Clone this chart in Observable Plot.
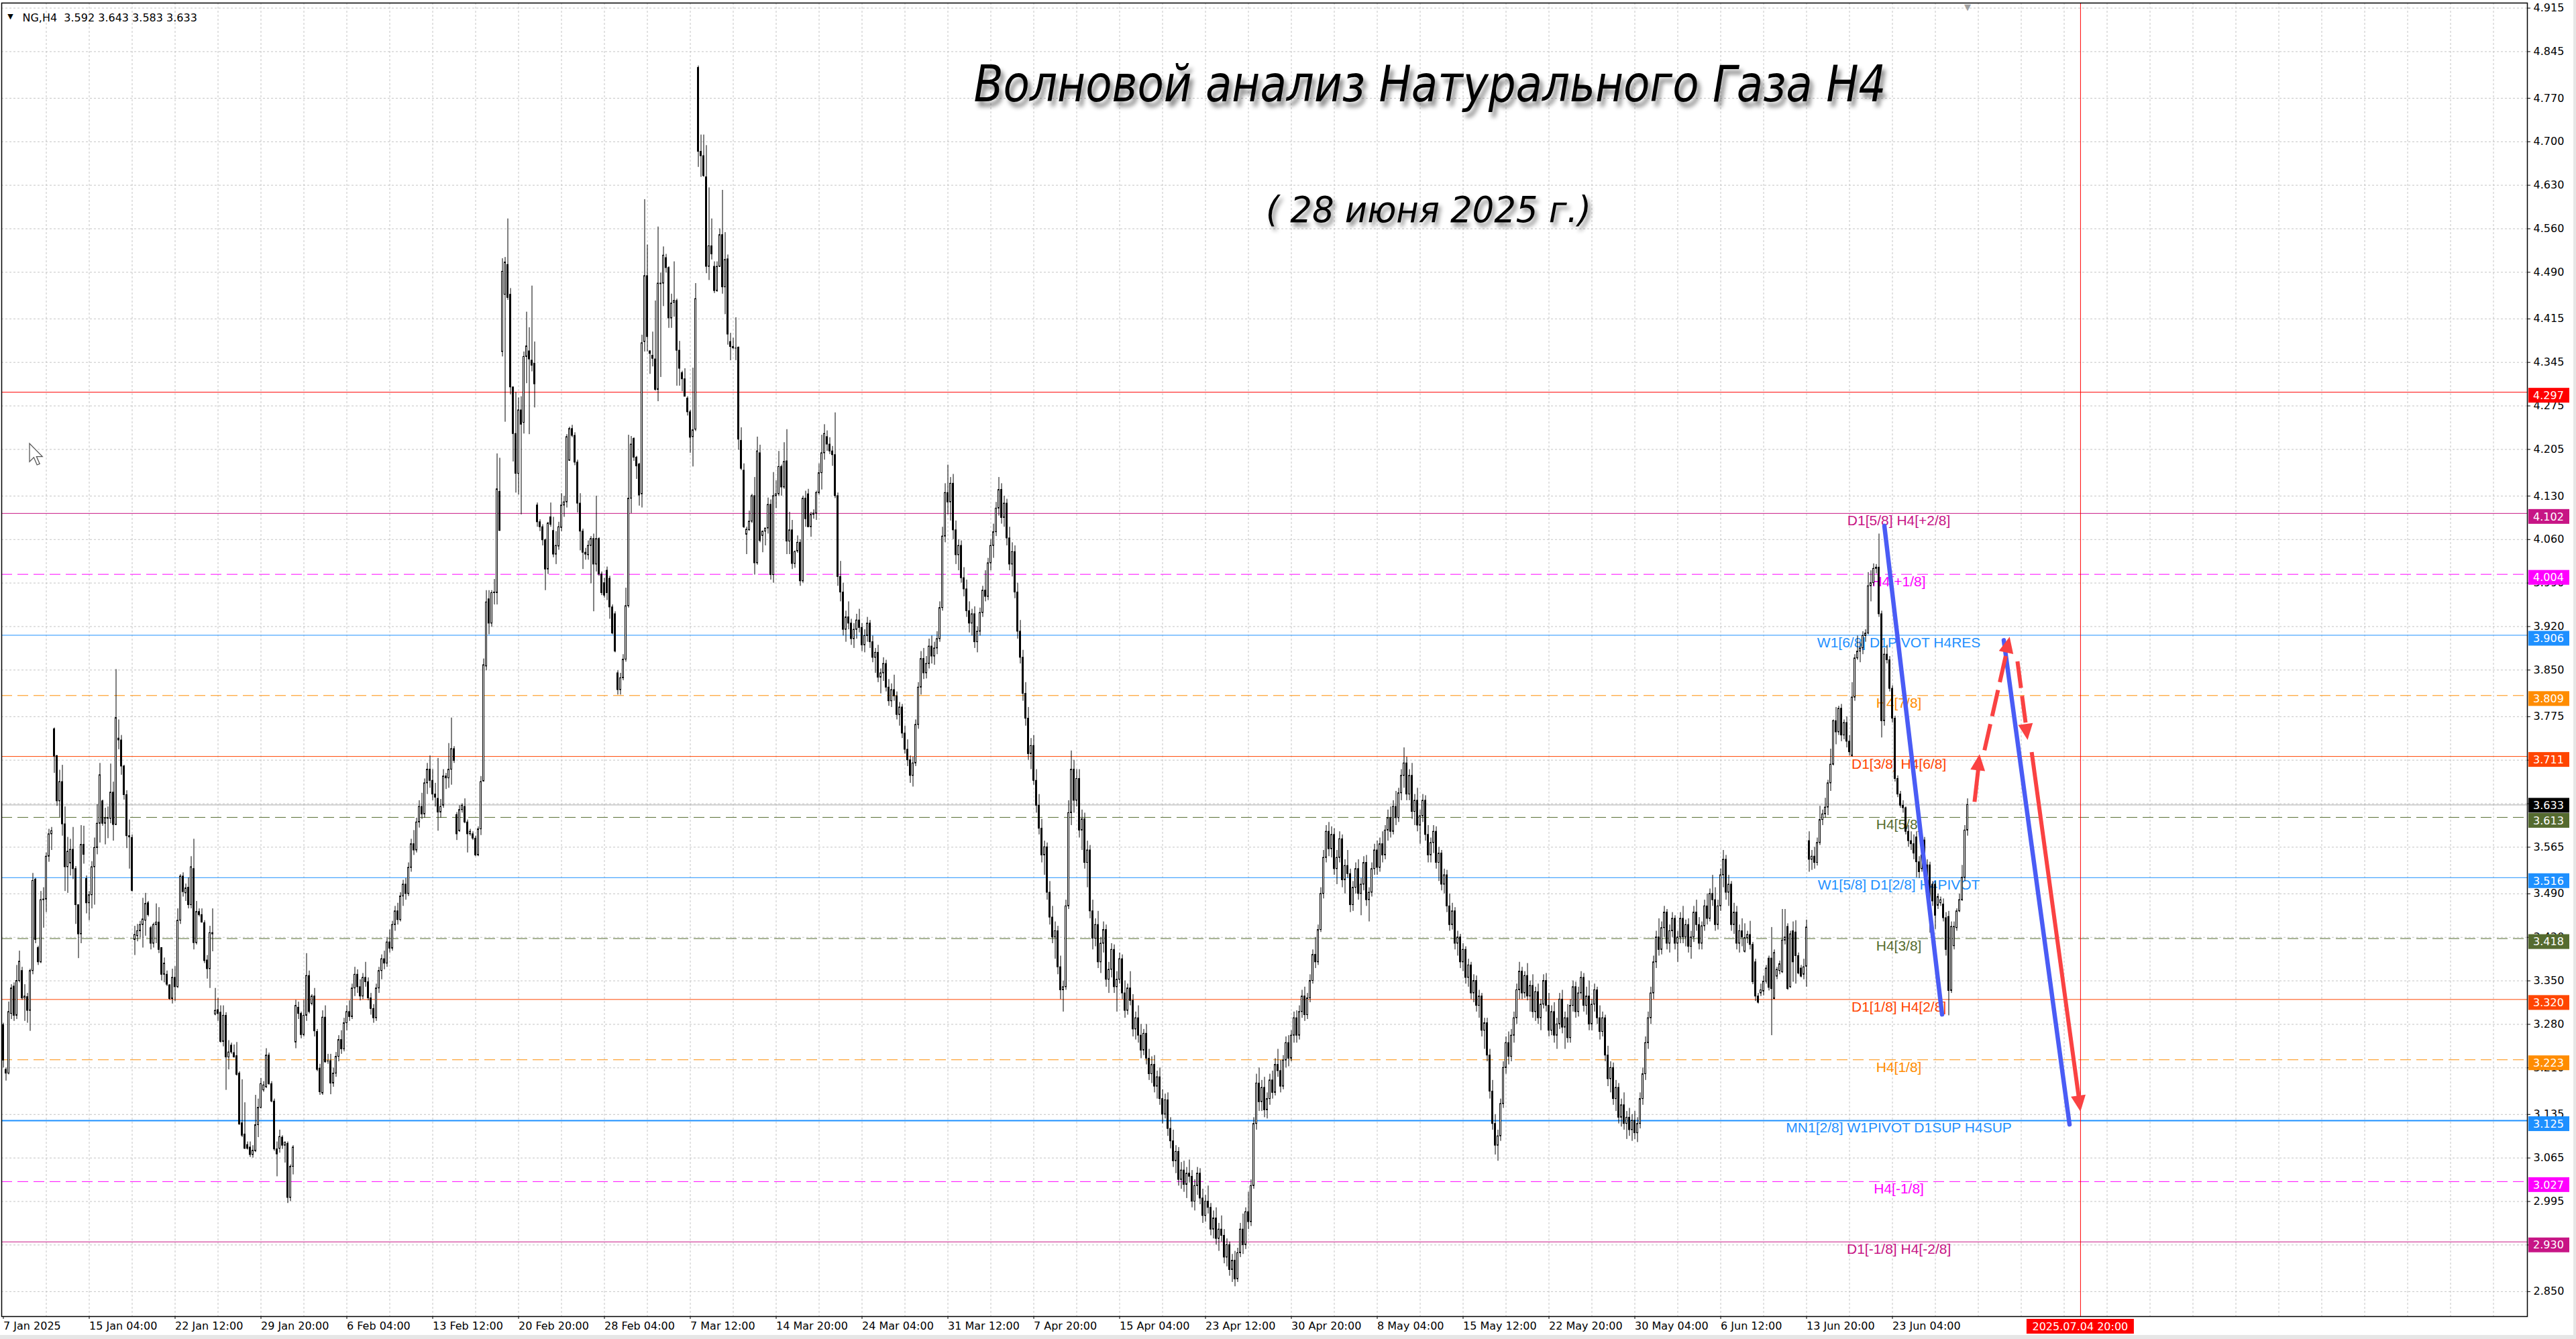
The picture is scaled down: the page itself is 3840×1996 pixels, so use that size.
<!DOCTYPE html>
<html><head><meta charset="utf-8">
<script src="https://cdn.jsdelivr.net/npm/d3@7"></script>
<script src="https://cdn.jsdelivr.net/npm/@observablehq/plot@0.6"></script>
<style>
html,body{margin:0;padding:0;background:#e6e6e6;overflow:hidden}
#chart svg{display:block}
</style></head><body><div id="chart"></div>
<script>
// ---------------- DATA (H4 candles, [open, high, low, close]) ----------------
// 7 Jan - 3 Feb
const bars1 = [
[3.279,3.282,3.210,3.222],[3.207,3.210,3.189,3.201],[3.201,3.316,3.199,3.300],[3.297,3.344,3.288,3.338],
[3.341,3.347,3.285,3.294],[3.294,3.375,3.288,3.350],[3.350,3.398,3.347,3.381],[3.366,3.372,3.319,3.322],
[3.322,3.344,3.285,3.325],[3.324,3.330,3.282,3.302],[3.302,3.369,3.269,3.366],[3.366,3.523,3.360,3.511],
[3.513,3.515,3.410,3.416],[3.403,3.406,3.375,3.380],[3.380,3.494,3.378,3.480],[3.480,3.500,3.435,3.481],
[3.481,3.556,3.460,3.550],[3.550,3.594,3.541,3.586],[3.586,3.597,3.560,3.591],[3.755,3.757,3.684,3.711],
[3.712,3.712,3.631,3.639],[3.639,3.689,3.613,3.670],[3.670,3.697,3.583,3.602],[3.602,3.630,3.494,3.533],
[3.533,3.581,3.491,3.558],[3.539,3.578,3.519,3.561],[3.561,3.597,3.513,3.530],[3.530,3.534,3.441,3.472],
[3.472,3.472,3.386,3.425],[3.425,3.600,3.410,3.569],[3.569,3.599,3.538,3.553],[3.514,3.519,3.458,3.475],
[3.475,3.494,3.447,3.488],[3.488,3.542,3.466,3.533],[3.533,3.580,3.472,3.564],[3.564,3.634,3.553,3.603],
[3.603,3.700,3.572,3.681],[3.639,3.641,3.599,3.603],[3.603,3.628,3.569,3.612],[3.612,3.630,3.579,3.611],
[3.611,3.699,3.603,3.653],[3.653,3.670,3.575,3.601],[3.601,3.851,3.600,3.773],[3.740,3.770,3.722,3.737],
[3.737,3.745,3.681,3.695],[3.695,3.697,3.641,3.649],[3.649,3.656,3.563,3.583],[3.583,3.609,3.530,3.581],
[3.580,3.585,3.493,3.495],[3.416,3.438,3.391,3.424],[3.422,3.441,3.413,3.430],[3.430,3.446,3.419,3.440],
[3.440,3.483,3.403,3.449],[3.447,3.491,3.422,3.474],[3.475,3.478,3.453,3.456],[3.435,3.438,3.400,3.410],
[3.410,3.443,3.403,3.440],[3.440,3.474,3.410,3.444],[3.444,3.468,3.394,3.400],[3.403,3.403,3.350,3.360],
[3.360,3.387,3.347,3.378],[3.360,3.366,3.341,3.344],[3.343,3.344,3.319,3.321],[3.321,3.369,3.313,3.355],
[3.355,3.373,3.317,3.340],[3.340,3.466,3.338,3.447],[3.447,3.521,3.441,3.518],[3.518,3.524,3.485,3.493],
[3.491,3.506,3.478,3.499],[3.500,3.516,3.466,3.472],[3.472,3.550,3.466,3.533],[3.530,3.578,3.400,3.411],
[3.411,3.478,3.408,3.461],[3.461,3.466,3.453,3.456],[3.456,3.466,3.443,3.444],[3.443,3.447,3.378,3.382],
[3.383,3.391,3.353,3.369],[3.369,3.438,3.338,3.427],[3.427,3.466,3.397,3.425],[3.296,3.338,3.294,3.302],
[3.303,3.322,3.285,3.297],[3.299,3.310,3.250,3.252],[3.252,3.310,3.244,3.294],[3.294,3.299,3.174,3.227],
[3.227,3.254,3.207,3.235],[3.246,3.250,3.232,3.235],[3.234,3.247,3.226,3.227],[3.229,3.251,3.197,3.199],
[3.201,3.204,3.118,3.119],[3.121,3.191,3.098,3.101],[3.103,3.154,3.079,3.080],[3.086,3.091,3.078,3.080],
[3.082,3.091,3.066,3.070],[3.070,3.085,3.065,3.077],[3.076,3.166,3.074,3.118],[3.118,3.160,3.098,3.146],
[3.146,3.193,3.144,3.184],[3.174,3.188,3.171,3.182],[3.179,3.241,3.177,3.230],[3.230,3.234,3.182,3.184],
[3.184,3.188,3.154,3.156],[3.156,3.160,3.076,3.079],[3.079,3.091,3.035,3.071],[3.080,3.110,3.073,3.099],
[3.098,3.101,3.079,3.085],[3.085,3.091,3.057,3.090],[3.088,3.091,2.992,3.001],[3.001,3.054,2.995,3.051],
[3.051,3.085,3.038,3.082],[3.251,3.319,3.241,3.310],[3.307,3.316,3.288,3.297],[3.297,3.300,3.257,3.263],
[3.263,3.319,3.260,3.294],[3.294,3.394,3.285,3.358],[3.358,3.366,3.297,3.300],[3.313,3.328,3.310,3.325],
[3.325,3.338,3.260,3.269],[3.268,3.272,3.204,3.207],[3.209,3.216,3.166,3.171],[3.169,3.302,3.166,3.291],
[3.291,3.310,3.218,3.219],[3.221,3.232,3.216,3.221],[3.221,3.232,3.167,3.185],[3.185,3.210,3.179,3.201]
];
// 4 Feb - 28 Feb
const bars2 = [
[3.201,3.235,3.195,3.228],[3.228,3.262,3.220,3.255],[3.255,3.270,3.232,3.240],[3.240,3.290,3.236,3.282],
[3.282,3.310,3.270,3.300],[3.300,3.318,3.285,3.292],[3.292,3.345,3.288,3.338],[3.338,3.372,3.325,3.360],
[3.360,3.368,3.330,3.340],[3.340,3.352,3.318,3.325],[3.325,3.362,3.320,3.355],[3.355,3.380,3.340,3.348],
[3.348,3.355,3.318,3.322],[3.322,3.330,3.295,3.305],[3.305,3.312,3.282,3.290],[3.290,3.345,3.285,3.338],
[3.338,3.372,3.330,3.366],[3.366,3.392,3.352,3.385],[3.385,3.398,3.368,3.378],[3.378,3.420,3.372,3.412],
[3.412,3.432,3.395,3.402],[3.402,3.446,3.398,3.440],[3.440,3.470,3.430,3.462],[3.462,3.475,3.440,3.448],
[3.448,3.492,3.445,3.486],[3.486,3.512,3.470,3.505],[3.505,3.515,3.480,3.490],[3.490,3.540,3.486,3.532],
[3.532,3.578,3.525,3.570],[3.570,3.592,3.552,3.560],[3.560,3.612,3.556,3.605],[3.605,3.640,3.596,3.630],
[3.630,3.652,3.610,3.618],[3.618,3.675,3.612,3.668],[3.668,3.700,3.650,3.690],[3.690,3.712,3.660,3.672],
[3.672,3.690,3.640,3.650],[3.650,3.668,3.630,3.645],[3.643,3.708,3.591,3.621],[3.621,3.642,3.612,3.630],
[3.632,3.690,3.628,3.679],[3.679,3.684,3.658,3.676],[3.676,3.732,3.660,3.690],[3.690,3.773,3.665,3.723],
[3.723,3.727,3.700,3.704],[3.617,3.621,3.576,3.586],[3.591,3.632,3.589,3.625],[3.625,3.635,3.620,3.632],
[3.630,3.643,3.603,3.605],[3.605,3.609,3.556,3.586],[3.586,3.594,3.583,3.590],[3.586,3.590,3.576,3.579],
[3.579,3.583,3.550,3.552],[3.552,3.598,3.550,3.594],[3.594,3.679,3.584,3.670],[3.671,3.868,3.670,3.858],
[3.856,3.978,3.849,3.959],[3.964,3.978,3.907,3.925],[3.925,3.978,3.919,3.974],[3.974,3.996,3.955,3.975],
[3.974,4.198,3.955,4.141],[4.137,4.191,4.074,4.074],[4.362,4.512,4.354,4.491],[4.454,4.514,4.249,4.506],
[4.502,4.576,4.445,4.449],[4.454,4.464,4.293,4.305],[4.305,4.305,4.185,4.230],[4.230,4.297,4.135,4.166],
[4.166,4.288,4.132,4.268],[4.268,4.290,4.100,4.245],[4.248,4.362,4.230,4.354],[4.354,4.426,4.311,4.371],
[4.363,4.401,4.229,4.350],[4.348,4.468,4.330,4.340],[4.343,4.378,4.272,4.310],[4.115,4.119,4.080,4.088],
[4.088,4.092,4.073,4.080],[4.080,4.084,4.050,4.059],[4.059,4.061,3.978,4.012],[4.012,4.088,4.004,4.086],
[4.096,4.119,4.080,4.084],[4.074,4.096,4.031,4.036],[4.036,4.073,4.020,4.050],[4.049,4.088,4.043,4.080],
[4.079,4.134,4.073,4.115],[4.115,4.130,4.096,4.120],[4.120,4.229,4.111,4.225],[4.187,4.241,4.186,4.238],
[4.238,4.244,4.224,4.227],[4.227,4.232,4.179,4.184],[4.184,4.188,4.103,4.118],[4.118,4.134,4.042,4.073],
[4.073,4.077,4.012,4.039],[4.039,4.046,4.027,4.036],[4.035,4.058,4.027,4.050],[4.050,4.065,3.989,4.061],
[4.061,4.069,3.944,4.020],[4.020,4.130,4.008,4.061],[4.061,4.063,4.001,4.004],[4.004,4.008,3.970,3.974],
[3.990,3.998,3.966,3.970],[4.010,4.016,3.962,3.974],[3.997,4.001,3.932,3.951],[3.951,3.955,3.907,3.909],
[3.940,3.944,3.878,3.880],[3.845,3.849,3.810,3.818],[3.818,3.845,3.810,3.837],[3.837,3.875,3.833,3.867],
[3.867,3.982,3.863,3.953],[3.953,4.228,3.950,4.126],[4.126,4.226,4.102,4.213],[4.222,4.224,4.186,4.192],
[4.192,4.194,4.157,4.178],[4.181,4.183,4.114,4.131],[4.133,4.389,4.111,4.376],[4.378,4.607,4.362,4.484],
[4.484,4.534,4.362,4.386]
];
// 3 Mar - 28 Mar
const bars3 = [
[4.363,4.364,4.326,4.359],[4.356,4.394,4.338,4.351],[4.350,4.444,4.299,4.301],[4.301,4.563,4.282,4.472],
[4.471,4.489,4.321,4.472],[4.472,4.531,4.435,4.517],[4.513,4.519,4.489,4.497],[4.497,4.499,4.400,4.416],
[4.416,4.455,4.400,4.440],[4.441,4.507,4.418,4.444],[4.444,4.447,4.307,4.364],[4.364,4.379,4.307,4.335],
[4.328,4.331,4.298,4.318],[4.318,4.335,4.290,4.290],[4.287,4.290,4.259,4.265],[4.265,4.268,4.199,4.224],
[4.225,4.336,4.177,4.236],[4.237,4.472,4.234,4.447],[4.819,4.822,4.659,4.684],[4.684,4.711,4.643,4.677],
[4.677,4.711,4.643,4.645],[4.643,4.694,4.488,4.499],[4.499,4.626,4.477,4.532],[4.532,4.576,4.510,4.519],
[4.499,4.507,4.456,4.460],[4.460,4.507,4.458,4.499],[4.499,4.560,4.498,4.550],[4.550,4.622,4.455,4.466],
[4.466,4.554,4.422,4.510],[4.511,4.518,4.373,4.390],[4.378,4.392,4.348,4.370],[4.370,4.384,4.366,4.368],
[4.368,4.417,4.348,4.368],[4.369,4.370,4.204,4.221],[4.219,4.240,4.171,4.174],[4.171,4.182,4.078,4.080],
[4.068,4.080,4.036,4.076],[4.075,4.106,4.074,4.089],[4.089,4.133,4.086,4.130],[4.130,4.160,4.003,4.022],
[4.022,4.225,4.019,4.202],[4.199,4.212,4.055,4.058],[4.066,4.074,4.039,4.073],[4.073,4.078,4.050,4.078],
[4.078,4.127,4.069,4.116],[4.116,4.124,3.995,4.003],[4.003,4.168,3.990,4.130],[4.130,4.155,4.110,4.133],
[4.133,4.202,4.130,4.177],[4.177,4.180,4.130,4.144],[4.144,4.216,4.141,4.185],[4.186,4.237,4.036,4.057],
[4.057,4.104,4.036,4.075],[4.075,4.091,4.012,4.021],[4.021,4.042,4.014,4.040],[4.041,4.066,4.038,4.055],
[4.055,4.060,3.985,3.993],[3.993,4.130,3.990,4.126],[4.126,4.138,4.080,4.093],[4.133,4.141,4.080,4.080],
[4.080,4.104,4.064,4.100],[4.100,4.108,4.093,4.102],[4.102,4.138,4.091,4.135],[4.135,4.182,4.132,4.167],
[4.167,4.228,4.140,4.199],[4.199,4.245,4.188,4.230],[4.225,4.235,4.202,4.213],[4.213,4.224,4.197,4.202],
[4.202,4.210,4.178,4.196],[4.196,4.264,4.126,4.130],[4.130,4.135,3.985,4.000],[4.000,4.025,3.960,3.975],
[3.975,3.990,3.905,3.915],[3.915,3.945,3.895,3.935],[3.935,3.960,3.915,3.925],[3.925,3.932,3.890,3.900],
[3.900,3.925,3.885,3.915],[3.915,3.940,3.900,3.930],[3.930,3.948,3.910,3.918],[3.918,3.925,3.880,3.890],
[3.890,3.915,3.878,3.905],[3.905,3.935,3.895,3.925],[3.925,3.930,3.885,3.895],[3.895,3.905,3.862,3.870],
[3.870,3.885,3.845,3.878],[3.878,3.890,3.830,3.838],[3.838,3.852,3.812,3.845],[3.845,3.870,3.832,3.860],
[3.860,3.866,3.815,3.822],[3.822,3.835,3.792,3.800],[3.800,3.828,3.790,3.818],[3.818,3.842,3.800,3.808],
[3.808,3.815,3.770,3.778],[3.778,3.798,3.760,3.790],[3.790,3.795,3.740,3.748],[3.748,3.760,3.715,3.722],
[3.722,3.738,3.695,3.705],[3.705,3.712,3.668,3.680],[3.680,3.710,3.662,3.700],[3.700,3.770,3.695,3.762],
[3.762,3.830,3.755,3.822],[3.822,3.880,3.810,3.868],[3.868,3.885,3.835,3.845],[3.845,3.872,3.836,3.860],
[3.860,3.900,3.852,3.888],[3.888,3.905,3.860,3.872],[3.872,3.895,3.858,3.885],[3.885,3.912,3.875,3.900],
[3.900,3.960,3.895,3.950],[3.950,4.080,3.945,4.065],[4.065,4.150,4.055,4.135],[4.135,4.180,4.100,4.120],
[4.120,4.160,4.090,4.150],[4.150,4.165,4.060,4.075],[4.075,4.090,4.020,4.035],[4.035,4.060,4.010,4.050],
[4.050,4.058,3.990,3.998],[3.998,4.015,3.968,3.980],[3.980,3.995,3.935,3.945]
];
// 31 Mar - 23 Apr
const bars4 = [
[3.945,3.960,3.910,3.925],[3.925,3.948,3.905,3.940],[3.940,3.952,3.885,3.895],[3.895,3.920,3.878,3.912],
[3.912,3.950,3.905,3.942],[3.942,3.985,3.935,3.978],[3.978,4.010,3.960,3.968],[3.968,4.030,3.962,4.022],
[4.022,4.060,4.010,4.050],[4.050,4.085,4.030,4.072],[4.072,4.120,4.065,4.110],[4.110,4.160,4.098,4.140],
[4.140,4.150,4.085,4.095],[4.095,4.130,4.080,4.118],[4.118,4.125,4.050,4.062],[4.062,4.080,4.010,4.020],
[4.020,4.055,4.000,4.040],[4.040,4.050,3.965,3.975],[3.975,3.990,3.900,3.912],[3.912,3.930,3.860,3.870],
[3.870,3.882,3.800,3.812],[3.812,3.830,3.760,3.772],[3.772,3.790,3.705,3.715],[3.715,3.740,3.690,3.728],
[3.728,3.745,3.665,3.672],[3.672,3.690,3.620,3.632],[3.632,3.650,3.585,3.595],[3.595,3.610,3.540,3.552],
[3.552,3.575,3.520,3.565],[3.565,3.572,3.480,3.492],[3.492,3.510,3.440,3.452],[3.452,3.470,3.410,3.420],
[3.420,3.445,3.385,3.430],[3.430,3.438,3.360,3.372],[3.372,3.390,3.320,3.335],[3.335,3.350,3.300,3.340],
[3.340,3.480,3.335,3.470],[3.470,3.640,3.465,3.620],[3.620,3.720,3.600,3.690],[3.690,3.705,3.620,3.640],
[3.640,3.690,3.630,3.675],[3.675,3.690,3.580,3.592],[3.592,3.625,3.560,3.610],[3.610,3.620,3.530,3.540],
[3.540,3.575,3.500,3.560],[3.560,3.568,3.450,3.462],[3.462,3.480,3.400,3.418],[3.418,3.450,3.405,3.440],
[3.440,3.462,3.370,3.380],[3.380,3.420,3.362,3.410],[3.410,3.445,3.395,3.432],[3.432,3.440,3.340,3.352],
[3.352,3.380,3.330,3.368],[3.368,3.410,3.355,3.400],[3.400,3.408,3.330,3.340],[3.340,3.365,3.300,3.352],
[3.352,3.395,3.345,3.385],[3.385,3.392,3.320,3.330],[3.330,3.350,3.290,3.302],[3.302,3.345,3.295,3.338],
[3.338,3.365,3.310,3.318],[3.318,3.328,3.260,3.272],[3.272,3.300,3.255,3.290],[3.290,3.310,3.250,3.262],
[3.262,3.280,3.225,3.238],[3.238,3.272,3.230,3.265],[3.265,3.280,3.215,3.225],[3.225,3.240,3.190,3.200],
[3.200,3.228,3.185,3.215],[3.215,3.230,3.170,3.180],[3.180,3.205,3.160,3.195],[3.195,3.210,3.150,3.160],
[3.160,3.175,3.120,3.135],[3.135,3.168,3.128,3.158],[3.158,3.170,3.100,3.112],[3.112,3.130,3.080,3.092],
[3.092,3.110,3.050,3.060],[3.060,3.085,3.040,3.075],[3.075,3.082,3.020,3.030],[3.030,3.058,3.015,3.045],
[3.045,3.060,3.010,3.022],[3.022,3.050,3.000,3.040],[3.040,3.062,3.025,3.035],[3.035,3.045,2.985,2.995],
[2.995,3.030,2.980,3.020],[3.020,3.050,3.005,3.040],[3.040,3.048,2.990,3.000],[3.000,3.015,2.960,2.972],
[2.972,3.005,2.962,2.995],[2.995,3.020,2.975,2.985],[2.985,2.992,2.940,2.950],[2.950,2.980,2.935,2.968],
[2.968,2.985,2.925,2.935],[2.935,2.960,2.915,2.950],[2.950,2.972,2.930,2.940],[2.940,2.950,2.895,2.905],
[2.905,2.935,2.890,2.925],[2.925,2.930,2.875,2.885],[2.885,2.910,2.865,2.900],[2.900,2.915,2.858,2.870],
[2.870,2.920,2.865,2.912],[2.912,2.960,2.905,2.950],[2.950,2.975,2.910,2.925],[2.925,2.985,2.918,2.978],
[2.978,3.010,2.950,2.962],[2.962,3.030,2.955,3.020],[3.020,3.130,3.015,3.120],[3.120,3.200,3.110,3.185],
[3.185,3.210,3.140,3.155],[3.155,3.190,3.140,3.178],[3.178,3.195,3.130,3.142],[3.142,3.170,3.128,3.160],
[3.160,3.200,3.150,3.190],[3.190,3.205,3.160,3.170],[3.170,3.225,3.165,3.215],[3.215,3.240,3.195,3.205],
[3.205,3.222,3.170,3.180],[3.180,3.230,3.175,3.222],[3.222,3.260,3.210,3.250],[3.250,3.262,3.212,3.225]
];
// 24 Apr - 21 May
const bars5 = [
[3.225,3.270,3.220,3.262],[3.262,3.300,3.250,3.290],[3.290,3.302,3.250,3.262],[3.262,3.310,3.255,3.300],
[3.300,3.335,3.290,3.325],[3.325,3.340,3.285,3.295],[3.295,3.330,3.288,3.322],[3.322,3.360,3.315,3.350],
[3.350,3.400,3.345,3.392],[3.392,3.420,3.370,3.380],[3.380,3.440,3.375,3.432],[3.432,3.500,3.428,3.490],
[3.490,3.560,3.482,3.548],[3.548,3.600,3.540,3.590],[3.590,3.605,3.550,3.562],[3.562,3.598,3.548,3.585],
[3.585,3.595,3.520,3.530],[3.530,3.560,3.505,3.548],[3.548,3.590,3.540,3.578],[3.578,3.585,3.500,3.512],
[3.512,3.545,3.490,3.535],[3.535,3.560,3.515,3.522],[3.522,3.530,3.460,3.472],[3.472,3.510,3.462,3.500],
[3.500,3.540,3.490,3.530],[3.530,3.545,3.480,3.490],[3.490,3.515,3.455,3.505],[3.505,3.550,3.495,3.540],
[3.540,3.552,3.470,3.480],[3.480,3.500,3.445,3.492],[3.492,3.540,3.485,3.530],[3.530,3.570,3.520,3.560],
[3.560,3.575,3.520,3.532],[3.532,3.580,3.525,3.570],[3.570,3.590,3.540,3.552],[3.552,3.600,3.545,3.592],
[3.592,3.625,3.575,3.612],[3.612,3.630,3.580,3.590],[3.590,3.640,3.585,3.630],[3.630,3.655,3.600,3.612],
[3.612,3.660,3.605,3.652],[3.652,3.690,3.640,3.680],[3.680,3.725,3.660,3.700],[3.700,3.710,3.640,3.650],
[3.650,3.690,3.640,3.680],[3.680,3.700,3.610,3.622],[3.622,3.650,3.600,3.640],[3.640,3.660,3.590,3.600],
[3.600,3.625,3.570,3.615],[3.615,3.650,3.605,3.640],[3.640,3.648,3.575,3.585],[3.585,3.600,3.540,3.552],
[3.552,3.580,3.540,3.572],[3.572,3.600,3.555,3.590],[3.590,3.598,3.530,3.540],[3.540,3.565,3.510,3.555],
[3.555,3.560,3.495,3.505],[3.505,3.530,3.490,3.520],[3.520,3.528,3.460,3.470],[3.470,3.490,3.430,3.440],
[3.440,3.475,3.432,3.462],[3.462,3.468,3.400,3.410],[3.410,3.430,3.390,3.420],[3.420,3.425,3.370,3.380],
[3.380,3.410,3.365,3.400],[3.400,3.405,3.345,3.355],[3.355,3.385,3.340,3.375],[3.375,3.380,3.320,3.330],
[3.330,3.360,3.315,3.350],[3.350,3.358,3.300,3.310],[3.310,3.335,3.290,3.325],[3.325,3.330,3.260,3.270],
[3.270,3.290,3.240,3.282],[3.282,3.290,3.220,3.230],[3.230,3.240,3.160,3.172],[3.172,3.190,3.110,3.120],
[3.120,3.135,3.070,3.085],[3.085,3.110,3.060,3.100],[3.100,3.160,3.092,3.152],[3.152,3.220,3.145,3.210],
[3.210,3.260,3.200,3.250],[3.250,3.268,3.215,3.228],[3.228,3.272,3.220,3.262],[3.262,3.300,3.250,3.290],
[3.290,3.345,3.280,3.335],[3.335,3.380,3.320,3.365],[3.365,3.372,3.320,3.330],[3.330,3.365,3.322,3.358],
[3.358,3.378,3.318,3.325],[3.325,3.350,3.300,3.342],[3.342,3.360,3.290,3.300],[3.300,3.340,3.285,3.332],
[3.332,3.345,3.280,3.290],[3.290,3.320,3.270,3.312],[3.312,3.360,3.305,3.350],[3.350,3.362,3.300,3.310],
[3.310,3.330,3.260,3.270],[3.270,3.310,3.262,3.300],[3.300,3.315,3.250,3.262],[3.262,3.290,3.240,3.280],
[3.280,3.330,3.272,3.320],[3.320,3.335,3.265,3.275],[3.275,3.300,3.240,3.290],[3.290,3.312,3.250,3.258],
[3.258,3.320,3.250,3.310],[3.310,3.350,3.300,3.340],[3.340,3.348,3.290,3.300],[3.300,3.340,3.292,3.330],
[3.330,3.365,3.320,3.355],[3.355,3.362,3.300,3.310],[3.310,3.340,3.295,3.325],[3.325,3.350,3.270,3.280],
[3.280,3.320,3.270,3.312],[3.312,3.345,3.300,3.335],[3.335,3.340,3.280,3.290],[3.290,3.310,3.255,3.268],
[3.268,3.300,3.260,3.290],[3.290,3.295,3.220,3.230],[3.230,3.245,3.180,3.192],[3.192,3.220,3.170,3.210]
];
// 22 May - 27 Jun
const bars6 = [
[3.210,3.218,3.150,3.160],[3.160,3.190,3.140,3.178],[3.178,3.185,3.120,3.130],[3.130,3.160,3.115,3.150],
[3.150,3.170,3.110,3.120],[3.120,3.140,3.095,3.130],[3.130,3.145,3.100,3.110],[3.110,3.135,3.092,3.125],
[3.125,3.140,3.095,3.105],[3.105,3.130,3.090,3.120],[3.120,3.170,3.112,3.160],[3.160,3.210,3.150,3.200],
[3.200,3.260,3.190,3.250],[3.250,3.300,3.240,3.290],[3.290,3.340,3.280,3.330],[3.330,3.390,3.320,3.380],
[3.380,3.430,3.370,3.420],[3.420,3.450,3.390,3.400],[3.400,3.445,3.392,3.435],[3.435,3.470,3.420,3.460],
[3.460,3.465,3.400,3.410],[3.410,3.440,3.395,3.430],[3.430,3.460,3.420,3.450],[3.450,3.455,3.400,3.410],
[3.410,3.430,3.380,3.420],[3.420,3.460,3.410,3.450],[3.450,3.470,3.410,3.420],[3.420,3.448,3.405,3.440],
[3.440,3.450,3.395,3.405],[3.405,3.430,3.385,3.420],[3.420,3.470,3.412,3.460],[3.460,3.480,3.430,3.440],
[3.440,3.452,3.400,3.410],[3.410,3.445,3.400,3.438],[3.438,3.480,3.430,3.470],[3.470,3.490,3.440,3.450],
[3.450,3.498,3.445,3.490],[3.490,3.520,3.470,3.480],[3.480,3.500,3.430,3.440],[3.440,3.480,3.432,3.470],
[3.470,3.530,3.462,3.520],[3.520,3.560,3.500,3.545],[3.545,3.552,3.480,3.492],[3.492,3.520,3.470,3.505],
[3.505,3.510,3.430,3.440],[3.440,3.475,3.425,3.460],[3.460,3.470,3.400,3.410],[3.410,3.440,3.395,3.430],
[3.430,3.450,3.405,3.420],[3.397,3.442,3.395,3.419],[3.419,3.430,3.410,3.424],[3.424,3.446,3.400,3.408],
[3.408,3.412,3.344,3.348],[3.380,3.385,3.317,3.325],[3.325,3.330,3.313,3.315],[3.330,3.345,3.325,3.335],
[3.333,3.358,3.326,3.349],[3.349,3.375,3.345,3.370],[3.386,3.390,3.334,3.339],[3.386,3.436,3.262,3.337],
[3.321,3.400,3.320,3.395],[3.357,3.372,3.352,3.368],[3.366,3.382,3.360,3.377],[3.364,3.465,3.362,3.415],
[3.415,3.465,3.408,3.420],[3.437,3.442,3.335,3.337],[3.340,3.430,3.338,3.425],[3.430,3.445,3.348,3.380],
[3.428,3.447,3.345,3.390],[3.390,3.395,3.360,3.362],[3.370,3.375,3.355,3.357],[3.360,3.385,3.352,3.372],
[3.373,3.448,3.340,3.436],[3.575,3.590,3.525,3.545],[3.545,3.560,3.528,3.550],[3.550,3.565,3.530,3.540],
[3.540,3.580,3.535,3.572],[3.572,3.631,3.568,3.609],[3.609,3.625,3.600,3.618],[3.618,3.644,3.612,3.629],
[3.629,3.673,3.616,3.668],[3.668,3.723,3.655,3.698],[3.698,3.770,3.696,3.768],[3.768,3.790,3.730,3.750],
[3.750,3.792,3.745,3.788],[3.788,3.795,3.735,3.745],[3.745,3.770,3.738,3.765],[3.765,3.775,3.725,3.735],
[3.735,3.745,3.712,3.718],[3.712,3.830,3.710,3.806],[3.806,3.875,3.800,3.869],[3.869,3.905,3.866,3.880],
[3.880,3.895,3.862,3.885],[3.885,3.912,3.875,3.905],[3.905,3.915,3.895,3.909],[3.909,4.007,3.907,3.985],
[3.985,4.010,3.960,3.990],[3.990,4.021,3.985,4.013],[4.013,4.020,4.005,4.015],[4.015,4.069,3.935,3.940],
[3.940,3.945,3.741,3.768],[3.768,3.885,3.760,3.875],[3.875,3.890,3.860,3.866],[3.866,3.872,3.815,3.820],
[3.820,3.825,3.765,3.772],[3.772,3.776,3.670,3.675],[3.675,3.680,3.645,3.650],[3.650,3.655,3.628,3.632],
[3.632,3.640,3.620,3.628],[3.628,3.630,3.585,3.590],[3.590,3.600,3.565,3.575],[3.575,3.590,3.560,3.570],
[3.570,3.585,3.545,3.555],[3.581,3.590,3.516,3.541],[3.541,3.550,3.515,3.525],[3.530,3.560,3.525,3.552],
[3.576,3.581,3.514,3.532],[3.536,3.545,3.500,3.507],[3.536,3.541,3.427,3.478],[3.505,3.510,3.470,3.478],
[3.505,3.510,3.433,3.455],[3.471,3.490,3.465,3.485],[3.475,3.485,3.470,3.480],[3.473,3.482,3.445,3.451],
[3.451,3.460,3.390,3.400],[3.453,3.462,3.294,3.334],[3.334,3.445,3.330,3.437],[3.406,3.445,3.400,3.437],
[3.435,3.466,3.430,3.462],[3.462,3.490,3.460,3.480],[3.480,3.536,3.478,3.516],[3.516,3.600,3.510,3.592],
[3.592,3.643,3.583,3.633]
];

const symbolName = "NG", timeframe = "H4";
// time axis labels, one every 32 bars starting at the first bar
const timeLabels = ["7 Jan 2025","15 Jan 04:00","22 Jan 12:00","29 Jan 20:00","6 Feb 04:00","13 Feb 12:00",
  "20 Feb 20:00","28 Feb 04:00","7 Mar 12:00","14 Mar 20:00","24 Mar 04:00","31 Mar 12:00","7 Apr 20:00",
  "15 Apr 04:00","23 Apr 12:00","30 Apr 20:00","8 May 04:00","15 May 12:00","22 May 20:00","30 May 04:00",
  "6 Jun 12:00","13 Jun 20:00","23 Jun 04:00"];
const priceTicks = [4.915,4.845,4.770,4.700,4.630,4.560,4.490,4.415,4.345,4.275,4.205,4.130,4.060,3.990,3.920,
  3.850,3.775,3.705,3.635,3.565,3.490,3.420,3.350,3.280,3.210,3.135,3.065,2.995,2.925,2.850];
// Murrey math / pivot levels
const levelPrice = [4.297,4.102,4.004,3.906,3.809,3.711,3.613,3.516,3.418,3.320,3.223,3.125,3.027,2.930];
const levelName = ["","D1[5/8] H4[+2/8]","H4[+1/8]","W1[6/8] D1PIVOT H4RES","H4[7/8]","D1[3/8] H4[6/8]","H4[5/8]",
  "W1[5/8] D1[2/8] H4PIVOT","H4[3/8]","D1[1/8] H4[2/8]","H4[1/8]","MN1[2/8] W1PIVOT D1SUP H4SUP","H4[-1/8]","D1[-1/8] H4[-2/8]"];
// forecast drawings (bar index, price)
const waveA_bar = [701, 722.5], waveA_price = [4.082, 3.296];
const waveB_bar = [745.5, 770], waveB_price = [3.898, 3.119];
const arrowFromBar = [734.6, 738.3, 750.6, 755.9], arrowFromPrice = [3.638, 3.721, 3.864, 3.718];
const arrowToBar   = [736.6, 747.8, 754.5, 774.2], arrowToPrice   = [3.714, 3.903, 3.737, 3.139];
const arrowDashed  = [false, true, true, false];
const futureBar = 774.1, futureLabel = "2025.07.04 20:00";
const titleText = "Волновой анализ Натурального Газа H4";
const subtitleText = "( 28 июня 2025 г.)";

// ---------------- STYLE / LAYOUT ----------------
const LEVEL_COLOR = ["#ff0000","#c71585","#ff00ff","#1e90ff","#ff8c00","#ff4500","#556b2f","#1e90ff","#556b2f","#ff4500","#ff8c00","#1e90ff","#ff00ff","#c71585"];
const LEVEL_DASHED = [0,0,1,0,1,0,1,0,1,0,1,0,1,0];
const LEVEL_WIDTH  = [1,1,1,1,1,1,1,1,1,1,1,2,1,1];
const W = 3836, H = 1990;
const X_DOMAIN = [0, 940], X_RANGE = [4.5, 3764.5];
const Y_DOMAIN = [2.8099, 4.9275], Y_RANGE = [1962, 0];
const LABEL_BAR = 706.4;
const RED = "#fa4242", BLUE = "#4a5cf5";
const KX = (X_RANGE[1]-X_RANGE[0])/(X_DOMAIN[1]-X_DOMAIN[0]);
const KY = (Y_RANGE[0]-Y_RANGE[1])/(Y_DOMAIN[1]-Y_DOMAIN[0]);

const bars = [...bars1, ...bars2, ...bars3, ...bars4, ...bars5, ...bars6]
  .map((d, i) => ({i, o: d[0], h: d[1], l: d[2], c: d[3]}));
const last = bars[bars.length - 1];
const bodies = bars.filter(d => Math.abs(d.c - d.o) >= 0.0006);
const dojis = bars.filter(d => Math.abs(d.c - d.o) < 0.0006);
const levels = levelPrice.map((p, k) => ({p, name: levelName[k], color: LEVEL_COLOR[k], dashed: LEVEL_DASHED[k], w: LEVEL_WIDTH[k]}));
const timeTicks = timeLabels.map((t, k) => k * 32);
const waveA = waveA_bar.map((b, k) => ({b, p: waveA_price[k]}));
const waveB = waveB_bar.map((b, k) => ({b, p: waveB_price[k]}));
const HEAD_L = 24, HEAD_W = 11;
const arrows = arrowFromBar.map((b, k) => {
  const a = {b1: b, p1: arrowFromPrice[k], b2: arrowToBar[k], p2: arrowToPrice[k], dashed: arrowDashed[k]};
  const dx = (a.b2 - a.b1) * KX, dy = -(a.p2 - a.p1) * KY, L = Math.hypot(dx, dy);
  const s = (HEAD_L - 6) / L;
  a.eb = a.b2 - (a.b2 - a.b1) * s; a.ep = a.p2 - (a.p2 - a.p1) * s;
  return a;
});
const fmt = d3.format(".3f");
const header = `${symbolName},${timeframe}  ${fmt(last.o)} ${fmt(last.h)} ${fmt(last.l)} ${fmt(last.c)}`;

const plot = Plot.plot({
  width: W, height: H,
  marginTop: 4, marginLeft: 2, marginRight: W - 3767, marginBottom: H - 1962,
  x: {type: "linear", domain: X_DOMAIN, range: X_RANGE},
  y: {type: "linear", domain: Y_DOMAIN, range: Y_RANGE},
  color: {type: "identity"},
  style: {background: "#fff", fontFamily: "DejaVu Sans", fontSize: "16px", overflow: "visible"},
  marks: [
    Plot.ruleY(priceTicks, {stroke: "#c4c4c4", strokeDasharray: "3,3"}),
    Plot.ruleX(d3.range(16, 941, 16), {stroke: "#c4c4c4", strokeDasharray: "3,3"}),
    Plot.ruleY(levels.filter(d => !d.dashed && d.w === 1), {y: "p", stroke: "color", strokeWidth: 1}),
    Plot.ruleY(levels.filter(d => !d.dashed && d.w === 2), {y: "p", stroke: "color", strokeWidth: 2}),
    Plot.ruleY(levels.filter(d => d.dashed), {y: "p", stroke: "color", strokeWidth: 1, strokeDasharray: "16,8"}),
    Plot.ruleY([last.c], {stroke: "#a8a8a8", strokeWidth: 1}),
    Plot.ruleX([futureBar], {stroke: "#ff0000", strokeWidth: 1}),
    Plot.text(levels.filter(d => d.name), {x: () => LABEL_BAR, y: "p", text: "name", fill: "color",
      fontSize: 21, fontFamily: "Liberation Sans, Arial, sans-serif", lineAnchor: "top", dy: 3}),
    Plot.ruleX(bars, {x: "i", y1: "l", y2: "h", stroke: "#000", strokeWidth: 1}),
    Plot.rect(bodies, {x1: d => d.i - 0.25, x2: d => d.i + 0.25, y1: "o", y2: "c",
      fill: d => d.c >= d.o ? "#fff" : "#000", stroke: "#000", strokeWidth: 1}),
    Plot.ruleY(dojis, {y: "o", x1: d => d.i - 0.375, x2: d => d.i + 0.375, stroke: "#000", strokeWidth: 1}),
    Plot.line(waveA, {x: "b", y: "p", stroke: BLUE, strokeWidth: 6.5, strokeLinecap: "round"}),
    Plot.line(waveB, {x: "b", y: "p", stroke: BLUE, strokeWidth: 6.5, strokeLinecap: "round"}),
    Plot.link(arrows.filter(a => !a.dashed), {x1: "b1", y1: "p1", x2: "eb", y2: "ep", stroke: RED, strokeWidth: 6}),
    Plot.link(arrows.filter(a => a.dashed), {x1: "b1", y1: "p1", x2: "eb", y2: "ep", stroke: RED, strokeWidth: 6, strokeDasharray: "40,12"}),
    Plot.frame({stroke: "#000", strokeWidth: 1.5}),
    Plot.axisY(priceTicks, {anchor: "right", tickSize: 4, tickPadding: 5, tickFormat: fmt, textAnchor: "start",
      fontSize: 16, fill: "#000", label: null}),
    Plot.axisX(timeTicks, {anchor: "bottom", tickSize: 4, tickPadding: 4, tickFormat: d => timeLabels[d / 32],
      textAnchor: "start", fontSize: 16, fill: "#000", label: null}),
    Plot.text([header], {frameAnchor: "top-left", dx: 31, dy: 16, fontSize: 16, textAnchor: "start", fill: "#000"}),
    Plot.text(["▼"], {frameAnchor: "top-left", dx: 13, dy: 16, fontSize: 11, textAnchor: "middle", fill: "#000"}),
    Plot.text(["▼"], {x: () => last.i, frameAnchor: "top", dy: 1, fontSize: 13, fill: "#a0a0a0", textAnchor: "middle"}),
    Plot.text([titleText], {frameAnchor: "top", dx: 246.5, dy: 123, fontSize: 74, fontStyle: "italic",
      fontFamily: "DejaVu Sans Condensed, DejaVu Sans, sans-serif", fill: "#000", lineAnchor: "middle"}),
    Plot.text([subtitleText], {frameAnchor: "top", dx: 244.5, dy: 309, fontSize: 54, fontStyle: "italic",
      fontFamily: "DejaVu Sans Condensed, DejaVu Sans, sans-serif", fill: "#000", lineAnchor: "middle"})
  ]
});
document.getElementById("chart").appendChild(plot);

// title shadow / width, arrow heads, price tags and cursor, positioned through Plot's own scales
const svg = d3.select(plot);
svg.selectAll("text").filter(function(){ return this.textContent === titleText; })
  .attr("textLength", 1360).attr("lengthAdjust", "spacingAndGlyphs").style("filter", "drop-shadow(5px 8px 3px rgba(0,0,0,0.45))");
svg.selectAll("text").filter(function(){ return this.textContent === subtitleText; })
  .attr("textLength", 485).attr("lengthAdjust", "spacingAndGlyphs").style("filter", "drop-shadow(4px 6px 3px rgba(0,0,0,0.45))");
const xs = plot.scale("x"), ys = plot.scale("y");
const ov = svg.append("g").attr("text-anchor", "start");
arrows.forEach(a => {
  const x1 = xs.apply(a.b1), y1 = ys.apply(a.p1), x2 = xs.apply(a.b2), y2 = ys.apply(a.p2);
  const dx = x2 - x1, dy = y2 - y1, L = Math.hypot(dx, dy), ux = dx / L, uy = dy / L;
  const bx = x2 - ux * HEAD_L, by = y2 - uy * HEAD_L;
  ov.append("path").attr("fill", RED)
    .attr("d", `M${x2},${y2}L${bx - uy * HEAD_W},${by + ux * HEAD_W}L${bx + uy * HEAD_W},${by - ux * HEAD_W}Z`);
});
const tags = levels.map(d => ({p: d.p, color: d.color, off: 6}));
tags.push({p: last.c, color: "#000", off: 10});
const axisX = 3767;
tags.forEach(t => {
  const y = ys.apply(t.p);
  ov.append("rect").attr("x", axisX + 2).attr("y", y - t.off).attr("width", 61).attr("height", 22).attr("fill", t.color);
  ov.append("text").attr("x", axisX + 9).attr("y", y - t.off + 11).attr("dy", "0.36em").attr("text-anchor", "start")
    .attr("fill", "#fff").attr("font-size", 16).attr("font-family", "DejaVu Sans").text(fmt(t.p));
});
const fx = xs.apply(futureBar);
ov.append("rect").attr("x", fx - 80).attr("y", 1966).attr("width", 160).attr("height", 22).attr("fill", "#ff0000");
ov.append("text").attr("x", fx).attr("y", 1977).attr("dy", "0.36em").attr("text-anchor", "middle")
  .attr("fill", "#fff").attr("font-size", 16).attr("font-family", "DejaVu Sans").text(futureLabel);
// mouse pointer left on the chart
ov.append("path").attr("transform", "translate(44,661) scale(1.6)")
  .attr("d", "M0,0L0,17L4,13L7,20L9.5,19L6.5,12.2L12,12.2Z")
  .attr("fill", "#fff").attr("stroke", "#555").attr("stroke-width", 0.8);
</script>
</body></html>
